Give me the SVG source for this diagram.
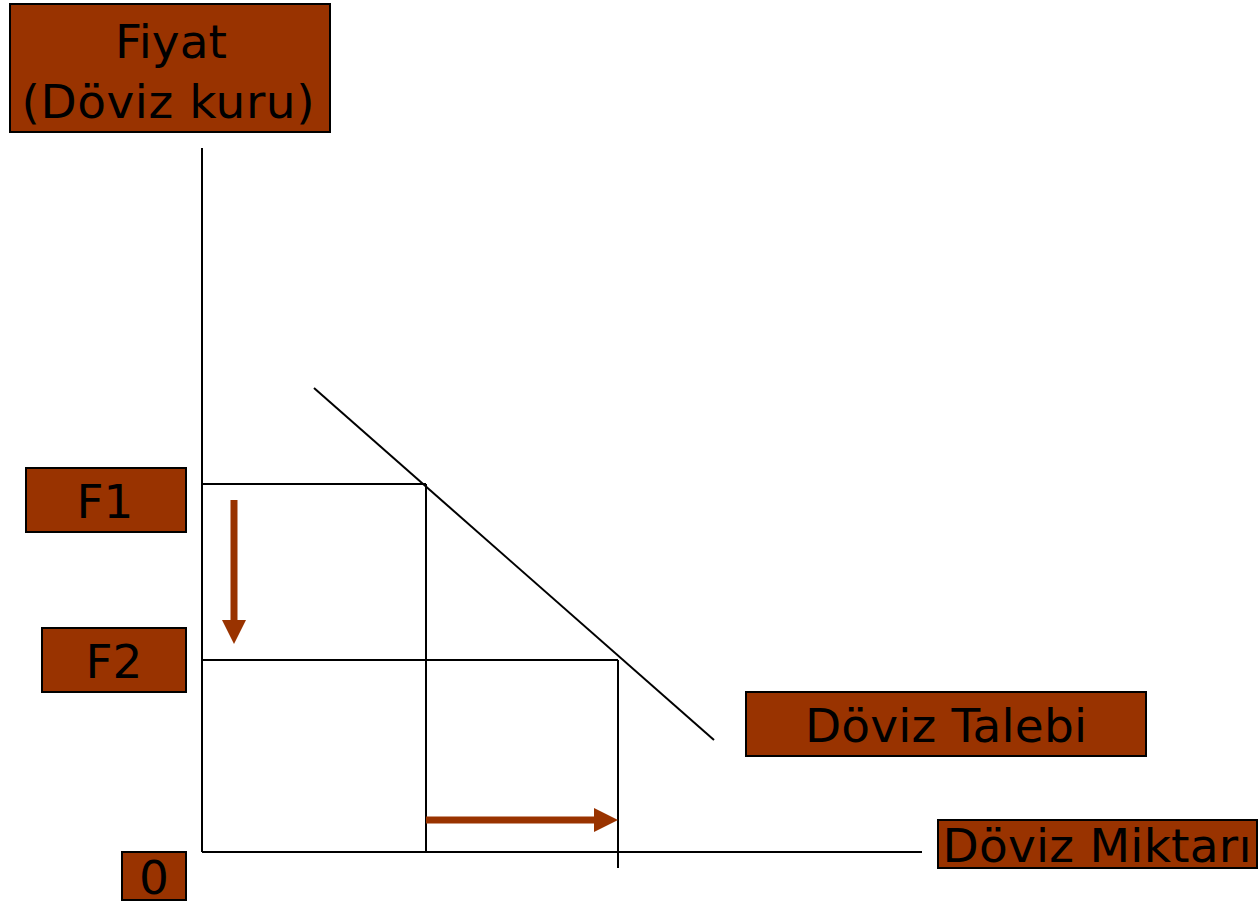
<svg xmlns="http://www.w3.org/2000/svg" width="1258" height="903" viewBox="0 0 1258 903">
  <style>
    .box { fill: #993300; stroke: #000; stroke-width: 2; }
    .lbl { font-family: "DejaVu Sans", Verdana, sans-serif; font-size: 47px; fill: #000; text-anchor: middle; }
    .axis { stroke: #000; stroke-width: 2; fill: none; }
    .move { stroke: #993300; stroke-width: 7; fill: none; }
  </style>
  <defs>
    <!-- arrowhead: tip sits 20px beyond the shaft end so the shaft stays hidden under the head -->
    <marker id="head" markerUnits="userSpaceOnUse" viewBox="0 0 24 24" markerWidth="24" markerHeight="24" refX="4" refY="12" orient="auto">
      <path d="M0,0 L24,12 L0,24 Z" fill="#993300"/>
    </marker>
  </defs>

  <!-- axes and guide lines -->
  <g id="connectors">
    <line class="axis" x1="202" y1="148" x2="202" y2="852"/>
    <line class="axis" x1="202" y1="852" x2="922" y2="852"/>
    <line class="axis" x1="202" y1="484" x2="426" y2="484"/>
    <line class="axis" x1="426" y1="484" x2="426" y2="852"/>
    <line class="axis" x1="202" y1="660" x2="618" y2="660"/>
    <line class="axis" x1="618" y1="660" x2="618" y2="868"/>
    <line class="axis" x1="314" y1="388" x2="714" y2="740"/>
    <line class="move" x1="234" y1="500" x2="234" y2="624" marker-end="url(#head)"/>
    <line class="move" x1="426" y1="820" x2="598" y2="820" marker-end="url(#head)"/>
  </g>

  <g id="price-label">
    <rect class="box" x="10" y="4" width="320" height="128"/>
    <text class="lbl" x="171" y="58" textLength="112">Fiyat</text>
    <text class="lbl" x="168" y="118" textLength="293">(Döviz kuru)</text>
  </g>

  <g id="f1">
    <rect class="box" x="26" y="468" width="160" height="64"/>
    <text class="lbl" x="105" y="518">F1</text>
  </g>

  <g id="f2">
    <rect class="box" x="42" y="628" width="144" height="64"/>
    <text class="lbl" x="114" y="678">F2</text>
  </g>

  <g id="origin">
    <rect class="box" x="122" y="852" width="64" height="48"/>
    <text class="lbl" x="154" y="894">0</text>
  </g>

  <g id="demand-label">
    <rect class="box" x="746" y="692" width="400" height="64"/>
    <text class="lbl" x="946" y="742" textLength="282">Döviz Talebi</text>
  </g>

  <g id="quantity-label">
    <rect class="box" x="938" y="820" width="319" height="48"/>
    <text class="lbl" x="1097" y="862" textLength="309">Döviz Miktarı</text>
  </g>
</svg>
